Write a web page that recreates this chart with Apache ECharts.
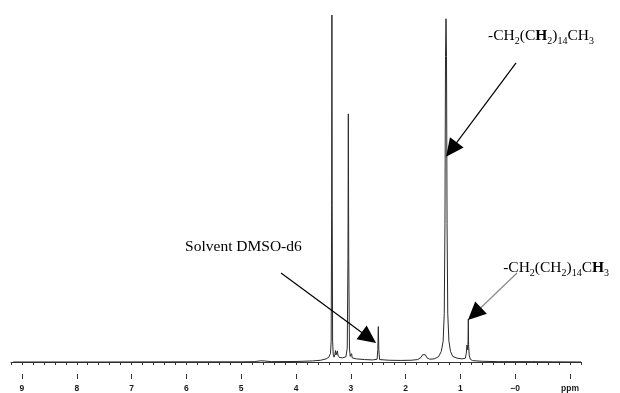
<!DOCTYPE html>
<html>
<head>
<meta charset="utf-8">
<title>1H NMR spectrum</title>
<script src="https://cdn.jsdelivr.net/npm/echarts@6/dist/echarts.min.js"></script>
<style>
  html, body { margin: 0; padding: 0; background: #fff; }
  #chart { width: 620px; height: 393px; }
</style>
</head>
<body>
<div id="chart"></div>
<script>
// Chemical shift (ppm) of each trace vertex and the matching signal intensity
const shiftPpm = [
  9.16, 7.5, 6.0, 5.0, 4.75, 4.65, 4.58, 4.45, 4.0, 3.7, 3.55, 3.45, 3.40, 3.37,
  3.358, 3.350, 3.345, 3.340, 3.332, 3.32, 3.305, 3.29, 3.28, 3.27, 3.255, 3.245, 3.235,
  3.21, 3.15, 3.09, 3.065, 3.052, 3.045, 3.038, 3.025, 3.01, 2.995, 2.985, 2.975,
  2.90, 2.75, 2.60, 2.52, 2.507, 2.498, 2.489, 2.475, 2.30, 2.10, 1.90,
  1.78, 1.72, 1.69, 1.664, 1.64, 1.61, 1.56, 1.48, 1.40, 1.35, 1.315, 1.295,
  1.282, 1.272, 1.263, 1.254, 1.244, 1.231, 1.21, 1.18, 1.14, 1.06, 0.97, 0.91, 0.893, 0.880,
  0.868, 0.861, 0.856, 0.851, 0.84, 0.82, 0.78, 0.6, 0.3, -0.3, -0.7, -1.2
];
const intensity = [
  0, 0, 0.05, 0.05, 0.1, 0.35, 0.3, 0.1, 0.15, 0.3, 0.5, 0.9, 1.4, 2.5,
  6, 45, 100, 45, 6, 2.0, 1.4, 2.2, 3.3, 2.0, 2.2, 3.2, 2.0,
  1.3, 1.2, 1.5, 4, 30, 71.5, 30, 4, 1.6, 1.3, 2.4, 1.2,
  0.9, 0.7, 0.6, 0.8, 3.5, 10.2, 3.5, 0.7, 0.5, 0.45, 0.5,
  0.7, 1.3, 2.1, 2.5, 2.1, 1.2, 0.8, 0.9, 1.5, 3, 6, 14,
  40, 88, 98.9, 88, 40, 14, 6, 3, 1.6, 1.1, 0.9, 1.1, 2.5, 4.9,
  3.5, 6, 12.4, 5, 2, 0.8, 0.4, 0.2, 0.1, 0.1, 0.05, 0
];

// Labelled axis positions and their texts
const tickValues = [9, 8, 7, 6, 5, 4, 3, 2, 1, 0, -1];
const tickLabels = ['9', '8', '7', '6', '5', '4', '3', '2', '1', '\u22120', 'ppm'];

const axisMin = -1.2;
const axisMax = 9.2;

// Small ticks every 0.2 ppm across the axis
const minorTicks = [];
for (let k = Math.round(axisMin * 5); k <= Math.round(axisMax * 5); k++) {
  minorTicks.push(Math.round(k * 20) / 100);
}

const trace = shiftPpm.map((p, i) => [p, intensity[i]]);

const serif = 'Liberation Serif, Times New Roman, serif';
const formulaRich = {
  n: { fontFamily: serif, fontSize: 15.5, lineHeight: 20, color: '#000', verticalAlign: 'middle' },
  b: { fontFamily: serif, fontSize: 15.5, lineHeight: 20, color: '#000', fontWeight: 'bold', verticalAlign: 'middle' },
  s: { fontFamily: serif, fontSize: 10, lineHeight: 20, color: '#000', verticalAlign: 'bottom' }
};

const chart = echarts.init(document.getElementById('chart'), null, { renderer: 'canvas' });

chart.setOption({
  animation: false,
  backgroundColor: '#ffffff',
  grid: { left: 11, right: 39, top: 15, bottom: 19, containLabel: false },
  xAxis: [
    {
      type: 'value', inverse: true, min: axisMin, max: axisMax, position: 'bottom',
      axisLine: { show: true, lineStyle: { color: '#333', width: 1 } },
      axisTick: { show: true, customValues: minorTicks, length: 3, lineStyle: { color: '#333', width: 1 } },
      axisLabel: {
        show: true, customValues: tickValues, margin: 10,
        fontFamily: 'Liberation Sans, Arial, sans-serif', fontWeight: 'bold', fontSize: 8.5, color: '#1a1a1a',
        formatter: v => {
          const i = tickValues.findIndex(t => Math.abs(t - v) < 1e-6);
          return i >= 0 ? tickLabels[i] : '';
        }
      },
      splitLine: { show: false }
    },
    {
      type: 'value', inverse: true, min: axisMin, max: axisMax, position: 'bottom',
      axisLine: { show: false },
      axisTick: { show: true, customValues: tickValues, length: 5, lineStyle: { color: '#333', width: 1 } },
      axisLabel: { show: false },
      splitLine: { show: false }
    }
  ],
  yAxis: {
    type: 'value', min: -3.46, max: 100, show: false, splitLine: { show: false }
  },
  series: [{
    type: 'line',
    data: trace,
    showSymbol: false,
    smooth: false,
    lineStyle: { color: '#2a2a2a', width: 1 },
    markLine: {
      silent: true,
      animation: false,
      symbol: ['none', 'triangle'],
      symbolSize: [17, 18],
      label: { show: false },
      emphasis: { disabled: true },
      data: [
        // solvent pointer
        [
          { coord: [4.273, 25.66], lineStyle: { color: '#000', width: 1.2, type: 'solid' } },
          { coord: [2.671, 7.0] }
        ],
        // CH2 chain pointer
        [
          { coord: [-0.015, 86.2], lineStyle: { color: '#000', width: 1.2, type: 'solid' } },
          { coord: [1.164, 61.2] }
        ],
        // CH3 pointer: grey shaft, black head
        [
          { coord: [-0.033, 25.66], lineStyle: { color: '#8a8a8a', width: 1.2, type: 'solid' } },
          { coord: [0.743, 13.9], symbol: 'none' }
        ],
        [
          { coord: [0.723, 14.2], lineStyle: { color: '#000', width: 1, type: 'solid' } },
          { coord: [0.743, 13.9] }
        ]
      ]
    },
    markPoint: {
      silent: true,
      animation: false,
      symbol: 'circle',
      symbolSize: 0,
      data: [
        {
          coord: [6.024, 33.15],
          label: {
            show: true, position: 'right', distance: 0,
            fontFamily: serif, fontSize: 15.5, color: '#000',
            formatter: 'Solvent DMSO-d6'
          }
        },
        {
          coord: [0.496, 93.98],
          label: {
            show: true, position: 'right', distance: 0,
            formatter: '{n|-CH}{s|2}{n|(C}{b|H}{s|2}{n|)}{s|14}{n|CH}{s|3}',
            rich: formulaRich
          }
        },
        {
          coord: [0.22, 27.0],
          label: {
            show: true, position: 'right', distance: 0,
            formatter: '{n|-CH}{s|2}{n|(CH}{s|2}{n|)}{s|14}{n|C}{b|H}{s|3}',
            rich: formulaRich
          }
        }
      ]
    }
  }]
});
</script>
</body>
</html>
